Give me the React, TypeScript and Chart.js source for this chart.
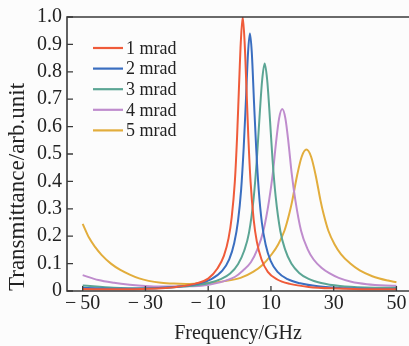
import { useEffect, useRef } from 'react';
import { Chart, registerables } from 'chart.js';

Chart.register(...registerables);

const seriesLabels = ['1 mrad', '2 mrad', '3 mrad', '4 mrad', '5 mrad'];
const seriesColors = ['#EF5B3A', '#3A6EC0', '#5BA594', '#BF8CCD', '#E2AD3C'];

const freq1 = [-50, -39, -29, -20, -14, -10, -7, -5, -3.5, -2.5, -1.5, -0.8, -0.2, 0.4, 1.0, 1.6, 2.2, 2.8, 3.5, 4.5, 5.5, 7, 9, 12, 16, 22, 31, 41, 50];
const trans1 = [0.007, 0.006, 0.008, 0.015, 0.027, 0.045, 0.083, 0.128, 0.193, 0.27, 0.4, 0.56, 0.74, 0.91, 1.0, 0.91, 0.74, 0.56, 0.4, 0.26, 0.18, 0.115, 0.07, 0.042, 0.026, 0.015, 0.009, 0.006, 0.006];

const freq2 = [-50, -38, -28, -19, -13, -9, -5.5, -3.3, -1.7, -0.5, 0.5, 1.3, 2.0, 2.7, 3.3, 3.9, 4.6, 5.3, 6.1, 7.1, 8.3, 9.9, 12.1, 15.3, 19.3, 25, 34, 44, 50];
const trans2 = [0.012, 0.008, 0.01, 0.016, 0.027, 0.043, 0.074, 0.115, 0.175, 0.255, 0.37, 0.52, 0.69, 0.87, 0.94, 0.87, 0.69, 0.52, 0.37, 0.25, 0.17, 0.11, 0.07, 0.043, 0.028, 0.017, 0.01, 0.007, 0.008];

const freq3 = [-50, -40, -30, -24, -16, -10, -6, -3, -0.5, 1.5, 3, 4.5, 5.5, 6.5, 7.2, 8, 8.8, 9.5, 10.5, 11.5, 13, 14.5, 16.5, 19, 22, 26, 32, 40, 50];
const trans3 = [0.02, 0.012, 0.01, 0.012, 0.018, 0.028, 0.043, 0.064, 0.098, 0.148, 0.212, 0.34, 0.48, 0.66, 0.77, 0.83, 0.77, 0.66, 0.48, 0.345, 0.218, 0.152, 0.1, 0.066, 0.044, 0.029, 0.018, 0.013, 0.012];

const freq4 = [-50, -45, -40, -35, -30, -25, -19, -13, -8.4, -4.4, -1.4, 1.1, 3.6, 5.6, 7.6, 9.4, 10.6, 11.6, 12.6, 13.6, 14.6, 15.6, 16.6, 17.8, 19.6, 21.6, 23.6, 26.1, 28.6, 31.6, 35.6, 40.6, 46.6, 50];
const trans4 = [0.058, 0.04, 0.03, 0.023, 0.018, 0.016, 0.017, 0.018, 0.026, 0.038, 0.052, 0.075, 0.105, 0.15, 0.22, 0.33, 0.43, 0.54, 0.63, 0.664, 0.63, 0.54, 0.43, 0.33, 0.22, 0.155, 0.115, 0.085, 0.065, 0.048, 0.034, 0.025, 0.02, 0.019];

const freq5 = [-50, -48, -46, -44, -41, -38, -35, -32, -29, -25, -21, -17, -14, -10.7, -4.7, 0.3, 4.3, 7.3, 10.3, 12.3, 14.3, 15.8, 16.8, 18.3, 19.8, 21.3, 22.8, 24.3, 25.8, 26.8, 28.3, 30.3, 32.3, 35.3, 38.3, 42.3, 47.3, 50];
const trans5 = [0.245, 0.195, 0.16, 0.132, 0.1, 0.077, 0.06, 0.046, 0.037, 0.03, 0.027, 0.026, 0.027, 0.029, 0.036, 0.048, 0.07, 0.095, 0.135, 0.17, 0.22, 0.28, 0.33, 0.42, 0.49, 0.516, 0.49, 0.42, 0.33, 0.28, 0.22, 0.17, 0.135, 0.1, 0.075, 0.054, 0.038, 0.032];

const xTickValues = [-50, -30, -10, 10, 30, 50];
const xTickLabels = ['\u2212\u200950', '\u2212\u200930', '\u2212\u200910', '10', '30', '50'];
const yTickValues = [0, 0.1, 0.2, 0.3, 0.4, 0.5, 0.6, 0.7, 0.8, 0.9, 1.0];
const yTickLabels = ['0', '0.1', '0.2', '0.3', '0.4', '0.5', '0.6', '0.7', '0.8', '0.9', '1.0'];

const xTitle = 'Frequency/GHz';
const yTitle = 'Transmittance/arb.unit';

const allFreq = [freq1, freq2, freq3, freq4, freq5];
const allTrans = [trans1, trans2, trans3, trans4, trans5];

const FONT = '"Liberation Serif", "Times New Roman", serif';
const AXIS_COLOR = '#3a3a3a';
const TEXT_COLOR = '#222';

const framePlugin = {
  id: 'frameTicksLegend',
  afterDatasetsDraw(chart: any) {
    const { ctx, chartArea, scales } = chart;
    const { left, top, right, bottom } = chartArea;
    const xs = scales.x;
    const ys = scales.y;
    ctx.save();
    ctx.strokeStyle = AXIS_COLOR;
    ctx.lineWidth = 1.6;
    ctx.beginPath();
    ctx.moveTo(right + 2, top);
    ctx.lineTo(left, top);
    ctx.lineTo(left, bottom);
    ctx.lineTo(right + 2, bottom);
    ctx.stroke();
    ctx.lineWidth = 1.3;
    ctx.beginPath();
    yTickValues.forEach((v) => {
      const py = ys.getPixelForValue(v);
      ctx.moveTo(left, py);
      ctx.lineTo(left + 6, py);
    });
    xTickValues.forEach((v) => {
      const px = xs.getPixelForValue(v);
      ctx.moveTo(px, bottom);
      ctx.lineTo(px, bottom - 5);
    });
    ctx.stroke();

    // legend
    ctx.font = `18px ${FONT}`;
    ctx.textBaseline = 'middle';
    ctx.textAlign = 'left';
    chart.data.datasets.forEach((ds: any, i: number) => {
      const yy = top + 31 + i * 20.6;
      const x0 = left + 26;
      ctx.strokeStyle = ds.borderColor;
      ctx.lineWidth = 2.2;
      ctx.beginPath();
      ctx.moveTo(x0, yy);
      ctx.lineTo(x0 + 30, yy);
      ctx.stroke();
      ctx.fillStyle = TEXT_COLOR;
      ctx.fillText(ds.label, x0 + 33, yy + 1);
    });
    ctx.restore();
  },
};

export default function App() {
  const canvasRef = useRef<HTMLCanvasElement | null>(null);

  useEffect(() => {
    document.body.style.margin = '0';
    const canvas = canvasRef.current;
    if (!canvas) return;
    const datasets = seriesLabels.map((label, i) => ({
      label,
      data: allFreq[i].map((f, j) => ({ x: f, y: allTrans[i][j] })),
      borderColor: seriesColors[i],
      backgroundColor: seriesColors[i],
      borderWidth: 2,
      pointRadius: 0,
      fill: false,
      cubicInterpolationMode: 'monotone' as const,
    }));

    const chart = new Chart(canvas, {
      type: 'line',
      data: { datasets },
      options: {
        animation: false,
        responsive: false,
        maintainAspectRatio: false,
        layout: { padding: { top: 14, right: 0, bottom: 0, left: 0 } },
        plugins: {
          legend: { display: false },
          tooltip: { enabled: false },
        },
        scales: {
          x: {
            type: 'linear',
            min: -55,
            max: 54,
            afterBuildTicks: (scale: any) => {
              scale.ticks = xTickValues.map((value) => ({ value }));
            },
            grid: { display: false, drawTicks: false },
            border: { display: false },
            ticks: {
              autoSkip: false,
              maxRotation: 0,
              padding: 1,
              color: TEXT_COLOR,
              font: { family: FONT, size: 20 },
              callback: (value: any) => {
                const k = xTickValues.indexOf(Number(value));
                return k >= 0 ? xTickLabels[k] : '';
              },
            },
            title: {
              display: true,
              text: xTitle,
              color: TEXT_COLOR,
              font: { family: FONT, size: 20 },
              padding: { top: 5, bottom: 0 },
            },
          },
          y: {
            type: 'linear',
            min: 0,
            max: 1,
            afterBuildTicks: (scale: any) => {
              scale.ticks = yTickValues.map((value) => ({ value }));
            },
            afterFit: (scale: any) => {
              scale.width = 67;
            },
            grid: { display: false, drawTicks: false },
            border: { display: false },
            ticks: {
              autoSkip: false,
              padding: 5,
              color: TEXT_COLOR,
              font: { family: FONT, size: 20 },
              callback: (value: any) => {
                const k = yTickValues.findIndex((t) => Math.abs(t - Number(value)) < 1e-9);
                return k >= 0 ? yTickLabels[k] : '';
              },
            },
            title: {
              display: true,
              text: yTitle,
              align: 'start',
              color: TEXT_COLOR,
              font: { family: FONT, size: 23 },
              padding: { top: 4, bottom: 0 },
            },
          },
        },
      },
      plugins: [framePlugin],
    });
    return () => chart.destroy();
  }, []);

  return (
    <div style={{ width: 409, height: 346, overflow: 'hidden', background: '#fcfcfc' }}>
      <canvas ref={canvasRef} width={409} height={346} style={{ display: 'block' }} />
    </div>
  );
}
